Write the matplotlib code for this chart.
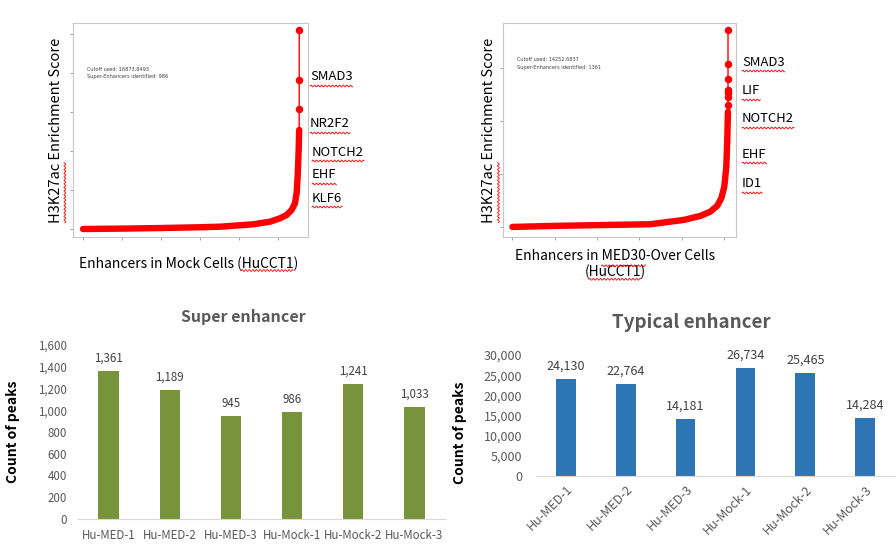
import numpy as np
import matplotlib
matplotlib.use("Agg")
import matplotlib.pyplot as plt
from matplotlib.lines import Line2D
from matplotlib.ticker import FuncFormatter

plt.rcParams['font.family'] = ['Noto Sans CJK KR', 'DejaVu Sans']

# Rank plots: enhancer rank vs. H3K27ac score (score in tick units)
mock_rank = [1, 5000, 10000, 15000, 17560, 21800, 23970, 25250, 26110, 26750,
             27170, 27390, 27520, 27650, 27715,
             27718, 27719, 27720]
mock_score = [0.0, 0.01, 0.025, 0.045, 0.059, 0.12, 0.187, 0.274, 0.359, 0.487,
              0.659, 0.923, 1.34, 2.03, 2.54,
              3.08, 3.82, 5.10]
mock_top = 3  # stand-alone points at the top of the curve
mock_genes = ["SMAD3", "NR2F2", "NOTCH2", "EHF", "KLF6"]
mock_note = ["Cutoff used: 16873.8493", "Super-Enhancers identified: 986"]

med_rank = [1, 5000, 10400, 16300, 20250, 22220, 23400, 24200, 24700, 25050,
            25290, 25400, 25484,
            25485, 25486, 25487, 25488, 25489, 25490, 25491]
med_score = [0.0, 0.02, 0.035, 0.051, 0.132, 0.208, 0.289, 0.396, 0.542, 0.760,
             1.138, 1.642, 2.175,
             2.30, 2.46, 2.53, 2.58, 2.79, 3.08, 3.72]
med_top = 7
med_genes = ["SMAD3", "LIF", "NOTCH2", "EHF", "ID1"]
med_note = ["Cutoff used: 14252.6837", "Super-Enhancers identified: 1361"]

# Bar charts
samples = ["Hu-MED-1", "Hu-MED-2", "Hu-MED-3", "Hu-Mock-1", "Hu-Mock-2", "Hu-Mock-3"]
super_counts = [1361, 1189, 945, 986, 1241, 1033]
typical_counts = [24130, 22764, 14181, 26734, 25465, 14284]

RED = "#ff0000"
GREEN = "#77933c"
BLUE = "#2e75b6"
GRAY = "#595959"

W, H = 896, 555
fig = plt.figure(figsize=(W / 100, H / 100), dpi=100)


def px_axes(x0, y0, x1, y1):
    # axes box from pixel coords (top-left origin)
    return fig.add_axes([x0 / W, 1 - y1 / H, (x1 - x0) / W, (y1 - y0) / H])


def rank_plot(ax, rank, score, n_top, xlim, ylim, yticks):
    n = len(rank) - n_top
    ax.plot(rank[:n], score[:n], color=RED, lw=4.6, solid_capstyle="round",
            solid_joinstyle="round")
    ax.plot(rank[n - 1:], score[n - 1:], color=RED, lw=1.0, marker="o", ms=4.4,
            markevery=slice(1, None))
    ax.set_xlim(*xlim)
    ax.set_ylim(*ylim)
    ax.set_xticks([0, 5000, 10000, 15000, 20000, 25000])
    ax.set_yticks(yticks)
    ax.set_xticklabels([])
    ax.set_yticklabels([])
    ax.tick_params(length=2.5, width=0.6, color="#909090")
    for s in ax.spines.values():
        s.set_color("#c8c8c8")
        s.set_linewidth(0.8)


# ---- top left: mock cells ----
ax1 = px_axes(73, 23, 308, 237)
rank_plot(ax1, mock_rank, mock_score, mock_top, (-1282, 28846), (-0.205, 5.28),
          [0, 1, 2, 3, 4, 5])
ylab1 = ax1.set_ylabel("H3K27ac Enrichment Score", fontsize=10.5)
ax1.yaxis.set_label_coords(-0.043, 0.5)
xlab1 = ax1.set_xlabel("Enhancers in Mock Cells (HuCCT1)", fontsize=10)
ax1.xaxis.set_label_coords(0.49, -0.09)
ax1.text(0.06, 0.765, "\n".join(mock_note), transform=ax1.transAxes,
         fontsize=3.6, color="#404040", va="center", family="DejaVu Sans",
         linespacing=1.6)
gene_y1 = [77, 124, 152, 175, 198]
gene_x1 = [310, 310, 312, 312, 312]
genes1 = []
for g, gx, gy in zip(mock_genes, gene_x1, gene_y1):
    genes1.append(fig.text(gx / W, 1 - gy / H, g, fontsize=9.4, va="center",
                           ha="left"))

# ---- top right: MED30-over cells ----
ax2 = px_axes(503, 23, 736, 237)
rank_plot(ax2, med_rank, med_score, med_top, (-1111, 26434), (-0.19, 3.85),
          [0, 1, 2, 3])
ylab2 = ax2.set_ylabel("H3K27ac Enrichment Score", fontsize=10.5)
ax2.yaxis.set_label_coords(-0.028, 0.5)
xl2a = ax2.text(0.48, -0.09, "Enhancers in MED30-Over Cells", transform=ax2.transAxes,
                fontsize=10, ha="center", va="center")
xl2b = ax2.text(0.48, -0.165, "(HuCCT1)", transform=ax2.transAxes,
                fontsize=10, ha="center", va="center")
ax2.text(0.06, 0.81, "\n".join(med_note), transform=ax2.transAxes,
         fontsize=3.6, color="#404040", va="center", family="DejaVu Sans",
         linespacing=1.6)
gene_y2 = [62, 91, 119, 154, 184]
gene_x2 = [742, 742, 742, 742, 742]
genes2 = []
for g, gx, gy in zip(med_genes, gene_x2, gene_y2):
    genes2.append(fig.text(gx / W, 1 - gy / H, g, fontsize=9.4, va="center",
                           ha="left"))


def bar_panel(ax, values, color, ymax, step, fs, rot, ypad, xpad):
    x = np.arange(len(samples))
    bars = ax.bar(x, values, width=0.33, color=color)
    ax.bar_label(bars, labels=[f"{v:,}" for v in values], padding=4.5,
                 fontsize=fs, color="#404040")
    ax.set_xlim(-0.5, len(samples) - 0.5)
    ax.set_ylim(0, ymax)
    ax.set_yticks(np.arange(0, ymax + 1, step))
    ax.yaxis.set_major_formatter(FuncFormatter(lambda v, p: f"{int(v):,}"))
    ax.set_xticks(x)
    if rot:
        ax.set_xticklabels(samples, rotation=45, ha="right", rotation_mode="anchor")
    else:
        ax.set_xticklabels(samples)
    ax.tick_params(length=0, labelsize=fs, labelcolor=GRAY)
    ax.tick_params(axis="y", pad=ypad)
    ax.tick_params(axis="x", pad=xpad)
    for side in ["left", "right", "top"]:
        ax.spines[side].set_visible(False)
    ax.spines["bottom"].set_color("#d9d9d9")
    ax.spines["bottom"].set_linewidth(0.8)


# ---- bottom left: super enhancer ----
ax3 = px_axes(78, 345, 445, 519)
bar_panel(ax3, super_counts, GREEN, 1600, 200, 8.3, False, 8, 7)
ax3.set_ylabel("Count of peaks", fontsize=10, fontweight="bold")
ax3.yaxis.set_label_coords(-0.158, 0.5)
fig.text(243 / W, 1 - 317 / H, "Super enhancer", fontsize=11.5, fontweight="bold",
         color=GRAY, ha="center", va="center")

# ---- bottom right: typical enhancer ----
ax4 = px_axes(536, 355, 895, 476)
bar_panel(ax4, typical_counts, BLUE, 30000, 5000, 9, True, 10, 5)
ax4.set_ylabel("Count of peaks", fontsize=10, fontweight="bold")
ax4.yaxis.set_label_coords(-0.192, 0.36)
fig.text(691 / W, 1 - 323 / H, "Typical enhancer", fontsize=13.5, fontweight="bold",
         color=GRAY, ha="center", va="center")


# ---- red spell-check squiggles under some words ----
def squiggle(a0, a1, base, vertical=False):
    t = np.linspace(a0, a1, max(int(a1 - a0) * 3, 4))
    w = 0.9 * np.sin((t - a0) / 3.6 * 2 * np.pi)
    xs, ys = (base + w, t) if vertical else (t, base + w)
    fig.add_artist(Line2D(xs / W, ys / H, transform=fig.transFigure,
                          color=RED, lw=0.6))


def underline(txt, word, renderer, vertical=False):
    s = txt.get_text()
    i = s.index(word) + len(word)
    prop = txt.get_fontproperties()
    end = renderer.get_text_width_height_descent(s[:i], prop, ismath=False)[0]
    ww = renderer.get_text_width_height_descent(word, prop, ismath=False)[0]
    d = renderer.get_text_width_height_descent(s, prop, ismath=False)[2]
    bb = txt.get_window_extent(renderer)
    if vertical:
        squiggle(bb.y0 + end - ww, bb.y0 + end, bb.x1 - d + 2, vertical=True)
    else:
        squiggle(bb.x0 + end - ww, bb.x0 + end, bb.y0 + d - 2.5)


fig.canvas.draw()
r = fig.canvas.get_renderer()
for t in genes1 + genes2:
    underline(t, t.get_text(), r)
underline(xlab1, "HuCCT1", r)
underline(xl2a, "MED30", r)
underline(xl2b, "HuCCT1", r)
underline(ylab1, "H3K27ac", r, vertical=True)
underline(ylab2, "H3K27ac", r, vertical=True)

fig.savefig("out.png", dpi=100)
